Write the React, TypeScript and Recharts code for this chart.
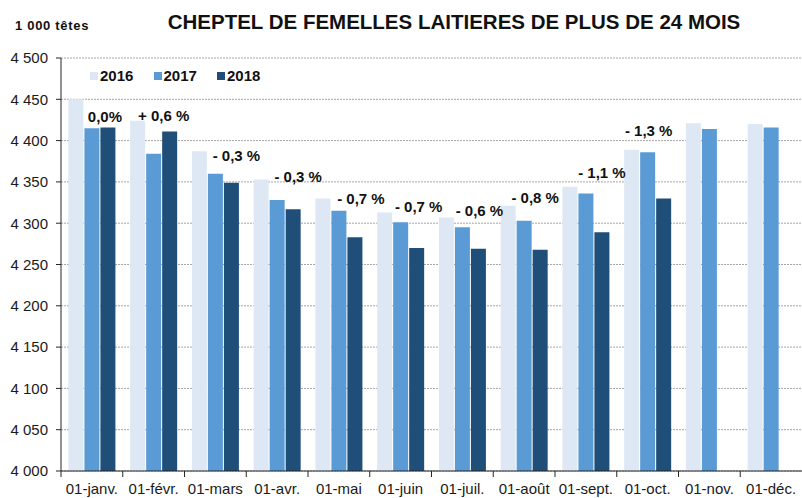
import { BarChart, Bar, XAxis, YAxis, CartesianGrid, LabelList } from "recharts";

const MOIS = [
  "01-janv.", "01-févr.", "01-mars", "01-avr.", "01-mai", "01-juin",
  "01-juil.", "01-août", "01-sept.", "01-oct.", "01-nov.", "01-déc.",
];
const V2016 = [4450, 4424, 4387, 4353, 4330, 4313, 4307, 4321, 4344, 4389, 4421, 4420];
const V2017 = [4415, 4384, 4360, 4328, 4315, 4301, 4295, 4303, 4336, 4386, 4414, 4416];
const V2018 = [4416, 4411, 4349, 4317, 4283, 4270, 4269, 4268, 4289, 4330, null, null];
const VARIATIONS = ["0,0%", "+ 0,6 %", "- 0,3 %", "- 0,3 %", "- 0,7 %", "- 0,7 %", "- 0,6 %", "- 0,8 %", "- 1,1 %", "- 1,3 %", null, null];
const Y_TICKS = [4000, 4050, 4100, 4150, 4200, 4250, 4300, 4350, 4400, 4450, 4500];

// placement des étiquettes (décalage par rapport au haut de la barre 2017)
const LABEL_DX = [13, 10, 21, 21, 22, 18, 17, 11, 16, 1];
const LABEL_DY = [-12, -38, -18, -24, -12, -16, -17, -23, -21, -22];

const SERIES = [
  { key: "a2016", nom: "2016", couleur: "#DEE8F4" },
  { key: "a2017", nom: "2017", couleur: "#5B9BD5" },
  { key: "a2018", nom: "2018", couleur: "#1F4E79" },
];

const data = MOIS.map((m, i) => ({
  mois: m,
  a2016: V2016[i],
  a2017: V2017[i],
  a2018: V2018[i],
  variation: VARIATIONS[i],
}));

const FONT = "Arial, 'Liberation Sans', sans-serif";
const fmt = (v: number) => String(v).replace(/\B(?=(\d{3})+(?!\d))/g, " ");

const MoisTick = (props: any) => {
  const { x, y, payload } = props;
  const half = payload?.offset ?? 31;
  return (
    <g>
      <line x1={x - half} x2={x - half} y1={y} y2={y + 6} stroke="#262626" strokeWidth={1} />
      <text x={x} y={y + 23} textAnchor="middle" fontSize={15} fill="#1a1a1a" fontFamily={FONT}>
        {payload.value}
      </text>
    </g>
  );
};

const VariationLabel = (props: any) => {
  const { x, y, width, index } = props;
  const txt = VARIATIONS[index];
  if (!txt) return null;
  return (
    <text
      x={x + width / 2 + (LABEL_DX[index] ?? 0)}
      y={y + (LABEL_DY[index] ?? 0)}
      textAnchor="middle"
      dominantBaseline="central"
      fontSize={15}
      fontWeight={700}
      fill="#111"
      fontFamily={FONT}
    >
      {txt}
    </text>
  );
};

export default function App() {
  return (
    <div style={{ position: "absolute", left: 0, top: 0, width: 802, height: 498, background: "#fff", fontFamily: FONT }}>
      <div style={{ position: "absolute", left: 15, top: 18, fontSize: 13, fontWeight: 700, color: "#111", letterSpacing: 0.7 }}>
        1 000 têtes
      </div>
      <div style={{ position: "absolute", left: 0, width: 908, top: 10, textAlign: "center", fontSize: 20.5, fontWeight: 700, color: "#111" }}>
        CHEPTEL DE FEMELLES LAITIERES DE PLUS DE 24 MOIS
      </div>
      <div style={{ position: "absolute", left: 90, top: 67, display: "flex", zIndex: 2 }}>
        {SERIES.map((s) => (
          <div key={s.key} style={{ display: "flex", alignItems: "center", width: 63.5 }}>
            <span style={{ width: 8, height: 8, background: s.couleur, marginRight: 2, display: "inline-block" }} />
            <span style={{ fontSize: 15, fontWeight: 700, color: "#111" }}>{s.nom}</span>
          </div>
        ))}
      </div>
      <BarChart
        width={802}
        height={498}
        data={data}
        margin={{ top: 58, right: 0, left: 0, bottom: 0 }}
        barCategoryGap="12%"
        barGap={1}
      >
        <CartesianGrid vertical={false} stroke="#a6a6a6" strokeDasharray="2 1" />
        <XAxis
          dataKey="mois"
          height={27}
          tickLine={false}
          tickSize={0}
          tickMargin={0}
          interval={0}
          axisLine={{ stroke: "#262626" }}
          tick={<MoisTick />}
        />
        <YAxis
          width={61}
          domain={[4000, 4500]}
          ticks={Y_TICKS}
          allowDataOverflow
          tickFormatter={fmt}
          tickSize={5}
          tickMargin={8}
          axisLine={{ stroke: "#262626" }}
          tickLine={{ stroke: "#262626" }}
          tick={{ fontSize: 15, fill: "#1a1a1a", fontFamily: FONT }}
        />
        {SERIES.map((s) => (
          <Bar key={s.key} dataKey={s.key} fill={s.couleur} isAnimationActive={false}>
            {s.key === "a2017" && <LabelList dataKey="variation" content={<VariationLabel />} />}
          </Bar>
        ))}
      </BarChart>
    </div>
  );
}
